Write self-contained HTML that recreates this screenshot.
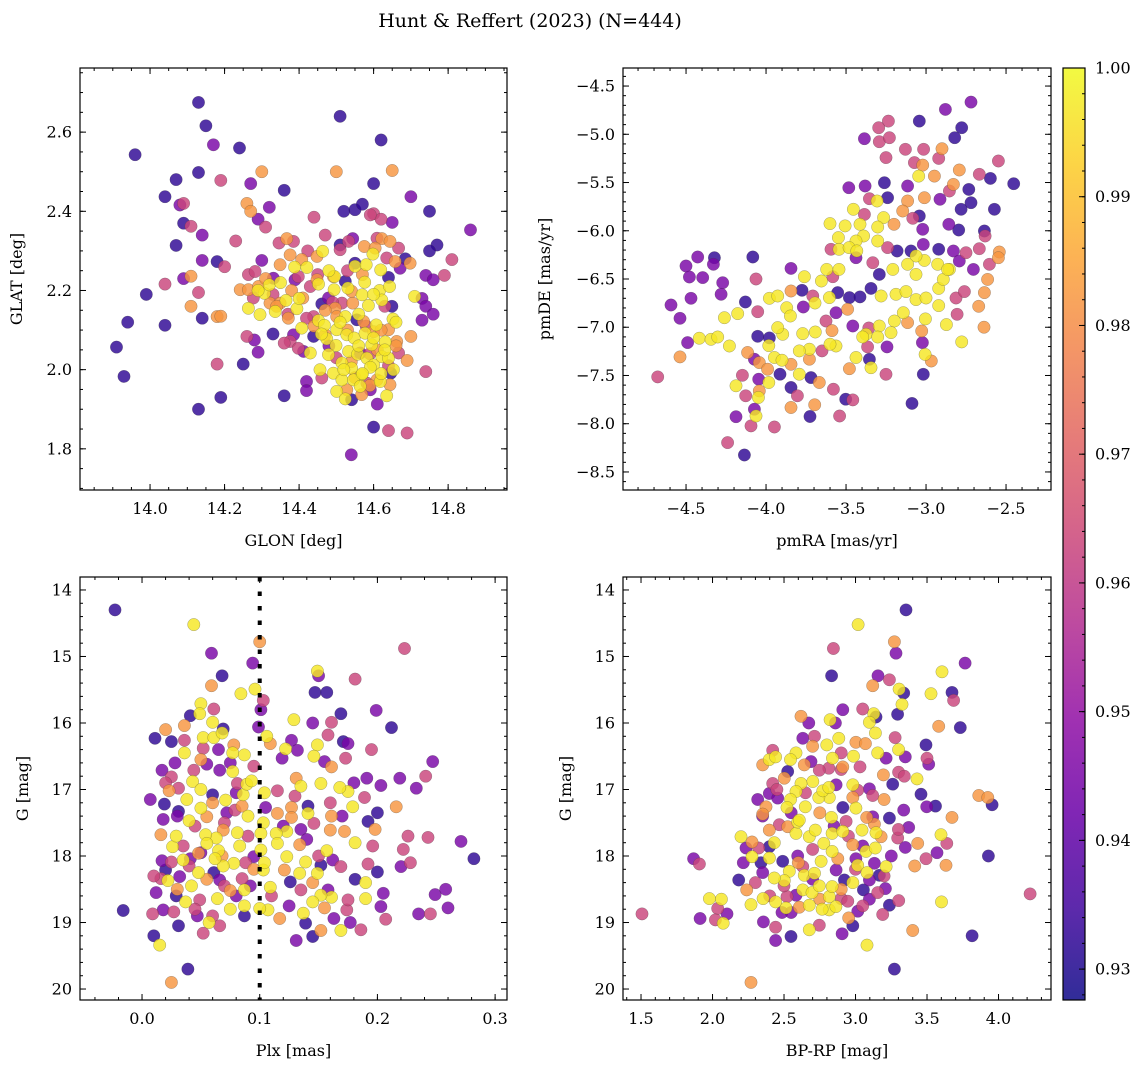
<!DOCTYPE html>
<html><head><meta charset="utf-8">
<style>
html,body{margin:0;padding:0;background:#fff;}
svg{display:block;font-family:"DejaVu Serif","Liberation Serif",serif;}
</style></head>
<body>
<svg id="fig" width="1148" height="1067" viewBox="0 0 1148 1067" xmlns="http://www.w3.org/2000/svg">
<defs>
<linearGradient id="plasmaGrad" x1="0" y1="1" x2="0" y2="0">
<stop offset="0" stop-color="#0d0887"/><stop offset="0.1" stop-color="#41049d"/><stop offset="0.2" stop-color="#6a00a8"/><stop offset="0.3" stop-color="#8f0da4"/><stop offset="0.4" stop-color="#b12a90"/><stop offset="0.5" stop-color="#cc4778"/><stop offset="0.6" stop-color="#e16462"/><stop offset="0.7" stop-color="#f2844b"/><stop offset="0.8" stop-color="#fca636"/><stop offset="0.9" stop-color="#fcce25"/><stop offset="1" stop-color="#f0f921"/>
</linearGradient>
</defs>
<text x="530" y="27" font-size="19" text-anchor="middle">Hunt &amp; Reffert (2023) (N=444)</text>
<g id="layer"></g>
</svg>
<script>
const D=0.932,U=0.945,K=0.963,O=0.982,Y=0.997;
const vmin=0.9276, vmax=1.0;
const cbTicks=[0.93,0.94,0.95,0.96,0.97,0.98,0.99,1.00];
const cbTickLabels=["0.93","0.94","0.95","0.96","0.97","0.98","0.99","1.00"];

const p1Ticks=[14.0,14.2,14.4,14.6,14.8];
const p1YTicks=[1.8,2.0,2.2,2.4,2.6];
const p2Ticks=[-4.5,-4.0,-3.5,-3.0,-2.5];
const p2YTicks=[-8.5,-8.0,-7.5,-7.0,-6.5,-6.0,-5.5,-5.0,-4.5];
const p3Ticks=[0.0,0.1,0.2,0.3];
const gTicks=[14,15,16,17,18,19,20];
const p4Ticks=[1.5,2.0,2.5,3.0,3.5,4.0];
const plxCut=0.1;

const skyStars=[
[14.13,2.675,D],[14.15,2.616,D],[14.17,2.568,U],[14.24,2.56,D],[13.96,2.543,D],[14.51,2.64,D],[14.62,2.58,D],[14.30,2.50,O],[14.50,2.50,O],[14.65,2.503,O],[14.07,2.48,D],[14.13,2.498,D],[14.19,2.478,K],[14.27,2.47,U],[14.36,2.453,D],[14.60,2.47,D],[14.04,2.437,D],[14.08,2.416,U],[14.09,2.42,K],[14.26,2.42,O],[14.27,2.40,O],[14.32,2.41,U],[14.29,2.38,U],[14.31,2.36,K],[14.44,2.385,K],[14.52,2.40,D],[14.55,2.404,D],[14.57,2.418,D],[14.60,2.394,K],[14.62,2.38,K],[14.65,2.372,U],[14.70,2.437,U],[14.75,2.40,D],[14.86,2.353,U],[14.09,2.37,D],[14.11,2.362,K],[14.14,2.34,U],[14.23,2.325,K],[14.07,2.314,D],[14.47,2.34,K],[14.77,2.315,D],[14.75,2.30,D],[14.14,2.276,U],[14.18,2.273,D],[14.20,2.26,K],[14.30,2.276,U],[14.81,2.278,K],[14.74,2.238,U],[14.76,2.227,U],[14.79,2.238,K],[14.11,2.236,O],[14.09,2.23,U],[14.04,2.216,K],[13.99,2.19,D],[14.13,2.195,K],[14.11,2.16,O],[13.94,2.12,D],[14.04,2.112,D],[13.91,2.057,D],[13.93,1.983,D],[14.14,2.13,D],[14.18,2.134,O],[14.19,2.135,O],[14.18,2.014,K],[14.25,2.014,D],[14.13,1.90,D],[14.19,1.93,D],[14.33,2.09,D],[14.26,2.084,K],[14.28,2.075,U],[14.29,2.044,U],[14.36,1.934,D],[14.70,2.084,O],[14.69,2.023,O],[14.74,1.995,K],[14.71,2.185,Y],[14.73,2.18,U],[14.74,2.16,U],[14.76,2.14,U],[14.73,2.125,U],[14.60,1.855,D],[14.64,1.846,K],[14.69,1.84,K],[14.54,1.785,U],[14.42,1.97,U],[14.42,1.947,U],[14.61,1.913,U],
[14.463,2.299,Y],[14.598,2.292,Y],[14.388,2.259,Y],[14.421,2.258,Y],[14.550,2.261,Y],[14.580,2.265,Y],[14.619,2.252,Y],[14.452,2.216,Y],[14.495,2.235,Y],[14.576,2.221,Y],[14.494,2.202,Y],[14.531,2.206,Y],[14.616,2.200,Y],[14.643,2.210,Y],[14.569,2.189,Y],[14.307,2.193,Y],[14.320,2.214,Y],[14.264,2.155,Y],[14.295,2.139,Y],[14.336,2.147,Y],[14.365,2.175,Y],[14.394,2.154,Y],[14.407,2.105,Y],[14.452,2.124,Y],[14.468,2.112,Y],[14.524,2.134,Y],[14.586,2.162,Y],[14.622,2.176,Y],[14.652,2.128,Y],[14.607,2.113,Y],[14.501,2.101,Y],[14.528,2.088,Y],[14.548,2.080,Y],[14.577,2.092,Y],[14.595,2.063,Y],[14.631,2.070,Y],[14.474,2.078,Y],[14.499,2.061,Y],[14.533,2.046,Y],[14.557,2.039,Y],[14.582,2.029,Y],[14.600,2.012,Y],[14.622,2.033,Y],[14.640,2.029,Y],[14.456,2.000,Y],[14.492,1.991,Y],[14.515,2.017,Y],[14.541,2.004,Y],[14.568,1.987,Y],[14.591,2.006,Y],[14.653,2.000,Y],[14.515,1.974,Y],[14.546,1.974,Y],[14.564,1.958,Y],[14.501,1.945,Y],[14.524,1.926,Y],[14.635,1.934,Y],[14.618,1.970,Y],[14.479,2.038,Y],[14.430,2.042,Y],
[14.367,2.331,O],[14.349,2.265,O],[14.376,2.290,O],[14.407,2.278,O],[14.448,2.286,O],[14.575,2.311,O],[14.622,2.331,O],[14.644,2.324,O],[14.604,2.307,O],[14.698,2.269,O],[14.658,2.273,O],[14.242,2.202,O],[14.264,2.202,O],[14.291,2.210,O],[14.322,2.168,O],[14.371,2.130,O],[14.410,2.181,O],[14.492,2.235,O],[14.544,2.168,O],[14.497,2.155,O],[14.573,2.122,O],[14.470,2.088,O],[14.600,2.096,O],[14.640,2.101,O],[14.501,2.134,O],[14.568,1.937,O],[14.609,1.974,O],[14.644,1.962,O],[14.528,1.949,O],[14.448,2.227,O],[14.349,2.168,O],[14.662,2.071,O],[14.541,2.198,O],
[14.423,2.300,K],[14.385,2.324,K],[14.346,2.320,K],[14.510,2.303,K],[14.533,2.324,K],[14.591,2.391,K],[14.609,2.332,K],[14.667,2.307,K],[14.635,2.282,K],[14.398,2.235,K],[14.264,2.240,K],[14.282,2.248,K],[14.430,2.210,K],[14.515,2.168,K],[14.376,2.071,K],[14.360,2.067,K],[14.398,2.054,K],[14.461,1.979,K],[14.582,1.966,K],[14.667,2.042,K],[14.439,2.134,K],[14.277,2.181,K],
[14.510,2.315,D],[14.544,2.331,U],[14.331,2.231,U],[14.389,2.227,U],[14.524,2.223,D],[14.550,2.269,D],[14.640,2.233,D],[14.649,2.160,D],[14.685,2.280,D],[14.461,2.166,D],[14.555,2.126,D],[14.439,2.084,D],[14.564,2.042,U],[14.385,2.088,U],[14.412,2.046,U],[14.646,1.991,D],[14.541,1.924,D],[14.591,1.949,U],[14.479,2.181,U],[14.671,2.256,U]
];
const skyStarsDense=[
[14.47,2.15,O],[14.49,2.17,K],[14.51,2.12,Y],[14.53,2.10,O],[14.56,2.14,Y],[14.58,2.11,K],[14.60,2.08,Y],[14.62,2.10,O],[14.63,2.05,Y],[14.61,2.05,O],[14.59,2.04,K],[14.56,2.06,Y],[14.54,2.02,O],[14.52,2.00,Y],[14.50,2.03,K],[14.48,2.06,U],[14.46,2.09,Y],[14.44,2.11,O],[14.42,2.13,K],[14.40,2.18,Y],[14.38,2.20,O],[14.35,2.22,Y],[14.33,2.19,K],[14.31,2.23,O],[14.29,2.20,Y],[14.34,2.16,O],[14.37,2.14,K],[14.55,1.98,O],[14.57,1.99,Y],[14.59,1.96,O],[14.62,1.99,Y],[14.64,2.01,K],[14.66,2.06,O],[14.66,2.12,Y],[14.63,2.16,K],[14.60,2.19,Y],[14.57,2.24,O],[14.53,2.25,K],[14.48,2.25,Y],[14.45,2.24,K]
];

const pmStars=[
[-2.719,-4.666,U],[-2.879,-4.742,U],[-3.042,-4.863,D],[-2.777,-4.932,D],[-2.821,-5.035,D],[-3.235,-4.863,K],[-3.296,-4.932,K],[-3.385,-5.046,U],[-3.292,-5.077,K],[-3.229,-5.035,K],[-3.129,-5.156,K],[-3.015,-5.156,K],[-2.900,-5.149,O],[-2.921,-5.250,K],[-2.548,-5.277,K],[-3.250,-5.242,K],[-3.073,-5.294,K],[-3.021,-5.319,O],[-2.792,-5.370,O],[-2.667,-5.415,K],[-2.598,-5.457,D],[-2.452,-5.512,D],[-2.948,-5.433,O],[-3.046,-5.433,Y],[-3.260,-5.502,D],[-3.381,-5.536,U],[-3.483,-5.554,U],[-3.115,-5.536,U],[-2.829,-5.519,O],[-2.854,-5.588,K],[-2.733,-5.571,D],[-2.913,-5.674,U],[-3.010,-5.657,O],[-3.115,-5.692,O],[-3.240,-5.657,D],[-3.306,-5.692,Y],[-3.354,-5.668,K],[-2.719,-5.709,D],[-2.781,-5.778,D],[-2.573,-5.778,D],[-3.146,-5.795,O],[-3.042,-5.847,D],[-3.083,-5.871,K],[-3.454,-5.778,Y],[-3.385,-5.830,K],[-3.265,-5.864,Y],[-3.200,-5.933,O],[-3.600,-5.926,Y],[-3.506,-5.950,Y],[-3.413,-5.933,Y],[-3.302,-5.961,Y],[-3.021,-5.985,U],[-2.858,-5.933,U],[-2.796,-5.992,D],[-2.635,-6.003,D],[-2.631,-6.054,K],[-3.548,-6.071,Y],[-3.390,-6.054,Y],[-3.302,-6.106,Y],[-3.438,-6.106,Y],[-3.544,-6.192,Y],[-3.481,-6.175,Y],[-3.433,-6.209,Y],[-3.594,-6.192,K],[-3.240,-6.175,K],[-3.181,-6.210,D],[-3.094,-6.210,D],[-3.017,-6.141,U],[-2.921,-6.192,D],[-2.829,-6.210,U],[-2.750,-6.227,K],[-2.667,-6.186,K],[-2.542,-6.220,O],[-2.548,-6.279,O],[-2.604,-6.348,K],[-2.704,-6.400,U],[-2.792,-6.313,U],[-2.854,-6.400,Y],[-2.927,-6.348,Y],[-3.010,-6.307,Y],[-3.063,-6.262,Y],[-3.115,-6.348,Y],[-3.063,-6.452,Y],[-3.208,-6.400,Y],[-3.292,-6.452,D],[-3.333,-6.331,K],[-3.438,-6.279,U],[-3.544,-6.400,Y],[-3.621,-6.400,Y],[-3.583,-6.476,K],[-3.654,-6.521,Y],[-3.760,-6.476,Y],[-3.844,-6.390,U],[-4.063,-6.500,K],[-4.083,-6.272,D],[-4.427,-6.272,U],[-4.323,-6.279,D],[-4.329,-6.348,U],[-4.500,-6.365,U],[-4.479,-6.479,U],[-4.396,-6.486,U],[-4.271,-6.538,U],[-4.281,-6.659,U],[-4.469,-6.700,U],[-4.594,-6.769,U],[-4.538,-6.907,U],[-4.490,-7.159,U],[-4.538,-7.307,O],[-4.677,-7.515,K],[-4.417,-7.114,Y],[-4.344,-7.125,Y],[-4.302,-7.101,Y],[-4.229,-7.194,Y],[-4.260,-6.901,Y],[-4.177,-6.859,Y],[-4.129,-6.738,D],[-4.052,-6.839,K],[-3.979,-6.700,Y],[-3.927,-6.676,Y],[-3.844,-6.624,O],[-3.871,-6.797,Y],[-3.848,-6.883,Y],[-3.775,-6.617,D],[-3.767,-6.790,U],[-3.694,-6.749,Y],[-3.708,-6.676,K],[-3.604,-6.693,Y],[-3.552,-6.641,D],[-3.479,-6.693,D],[-3.413,-6.686,D],[-3.344,-6.597,D],[-3.281,-6.676,Y],[-3.188,-6.659,Y],[-3.125,-6.631,Y],[-3.063,-6.714,Y],[-3.000,-6.697,Y],[-2.921,-6.597,Y],[-2.892,-6.504,Y],[-2.865,-6.400,Y],[-2.813,-6.697,K],[-2.760,-6.631,K],[-2.635,-6.641,O],[-2.615,-6.504,O],[-2.671,-6.783,O],[-2.806,-6.866,K],[-2.921,-6.776,Y],[-3.004,-6.914,Y],[-2.873,-6.973,Y],[-2.638,-7.000,O],[-2.777,-7.152,Y],[-3.027,-7.039,O],[-3.023,-7.159,U],[-3.006,-7.281,Y],[-2.967,-7.350,O],[-3.017,-7.488,D],[-3.088,-7.789,D],[-3.142,-6.849,Y],[-3.198,-6.935,Y],[-3.292,-6.987,Y],[-3.219,-7.056,Y],[-3.115,-6.952,O],[-3.375,-7.073,Y],[-3.302,-7.101,Y],[-3.244,-7.204,U],[-3.396,-7.101,Y],[-3.458,-6.987,U],[-3.490,-6.814,O],[-3.563,-6.849,U],[-3.625,-6.935,K],[-3.692,-7.049,Y],[-3.771,-7.066,Y],[-3.563,-7.194,Y],[-3.600,-7.176,Y],[-3.650,-7.245,K],[-3.729,-7.228,Y],[-3.792,-7.245,Y],[-3.438,-7.314,Y],[-3.354,-7.332,D],[-3.344,-7.419,Y],[-3.479,-7.430,O],[-3.250,-7.488,K],[-3.365,-7.204,K],[-3.896,-7.073,Y],[-3.927,-7.004,Y],[-3.983,-7.190,Y],[-4.052,-7.094,D],[-3.979,-7.111,D],[-4.115,-7.262,O],[-4.073,-7.331,U],[-3.948,-7.314,Y],[-3.900,-7.342,Y],[-4.042,-7.366,O],[-3.990,-7.435,O],[-3.913,-7.487,D],[-3.844,-7.384,O],[-3.792,-7.487,Y],[-3.729,-7.331,O],[-3.719,-7.522,D],[-3.667,-7.573,O],[-3.983,-7.573,Y],[-4.046,-7.539,U],[-4.148,-7.498,K],[-4.188,-7.607,Y],[-4.127,-7.711,K],[-4.048,-7.728,Y],[-4.042,-7.660,O],[-3.844,-7.625,D],[-3.804,-7.711,K],[-3.844,-7.832,O],[-3.696,-7.804,O],[-3.725,-7.925,D],[-3.579,-7.642,K],[-3.540,-7.920,K],[-3.502,-7.746,D],[-3.458,-7.753,K],[-4.063,-7.920,Y],[-4.073,-7.850,U],[-4.188,-7.927,U],[-4.094,-8.023,K],[-3.948,-8.034,K],[-4.240,-8.196,K],[-4.135,-8.324,D],[-3.358,-7.008,K],[-3.588,-7.035,O]
];

const plxStars=[
[-0.023,14.30,D],[0.044,14.52,Y],[0.100,14.78,O],[0.059,14.95,U],[0.094,15.10,U],[0.068,15.29,D],[0.223,14.88,K],[0.149,15.22,Y],[0.150,15.29,U],[0.181,15.34,K],[0.147,15.54,D],[0.157,15.54,D],[0.059,15.44,O],[0.084,15.56,Y],[0.096,15.49,Y],[0.103,15.66,K],[0.050,15.71,Y],[0.061,15.79,K],[0.041,15.89,D],[0.049,15.86,Y],[0.036,16.04,O],[0.060,15.99,Y],[0.069,16.09,D],[0.101,15.80,U],[0.129,15.95,Y],[0.145,16.00,U],[0.161,15.99,K],[0.169,15.86,D],[0.199,15.81,U],[0.212,16.07,D],[0.099,16.06,U],[0.011,16.23,D],[0.025,16.28,D],[0.036,16.26,K],[0.052,16.22,Y],[0.061,16.22,Y],[0.068,16.15,Y],[0.078,16.33,O],[0.077,16.45,Y],[0.087,16.48,Y],[0.036,16.45,Y],[0.052,16.38,K],[0.106,16.20,Y],[0.109,16.31,O],[0.127,16.26,U],[0.132,16.41,U],[0.122,16.39,Y],[0.149,16.33,Y],[0.158,16.18,K],[0.171,16.28,D],[0.175,16.31,U],[0.195,16.40,K],[0.146,16.50,Y],[0.155,16.58,U],[0.161,16.66,O],[0.173,16.53,K],[0.247,16.58,U],[0.241,16.80,K],[0.233,16.98,U],[0.219,16.83,U],[0.203,16.94,U],[0.191,16.83,U],[0.189,17.12,K],[0.216,17.26,O],[0.200,17.35,D],[0.192,17.48,D],[0.198,17.60,O],[0.196,17.85,K],[0.226,17.70,K],[0.243,17.72,K],[0.271,17.78,U],[0.282,18.04,D],[0.222,17.90,K],[0.228,18.10,K],[0.220,18.16,U],[0.200,18.24,D],[0.192,18.12,K],[0.190,18.40,Y],[0.190,18.64,Y],[0.205,18.56,U],[0.203,18.76,U],[0.207,18.95,K],[0.249,18.58,U],[0.258,18.50,U],[0.260,18.78,U],[0.235,18.87,U],[0.245,18.87,K],[0.186,19.11,K],[0.177,19.00,U],[0.169,19.12,Y],[0.163,18.94,U],[0.152,19.12,O],[0.145,19.21,D],[0.131,19.27,U],[0.139,19.01,D],[0.137,18.86,Y],[0.155,18.78,O],[0.161,18.62,Y],[0.152,18.59,Y],[0.145,18.69,Y],[0.174,18.81,K],[0.175,18.66,K],[0.117,18.94,O],[0.107,18.81,Y],[0.100,18.79,Y],[0.109,18.47,Y],[0.103,18.21,Y],[0.095,18.01,U],[0.087,18.90,D],[0.087,18.75,Y],[0.075,18.80,Y],[0.064,18.64,Y],[0.075,18.52,O],[0.087,18.51,Y],[0.057,19.00,Y],[0.066,19.05,K],[0.052,19.16,K],[0.047,18.90,U],[0.031,19.05,D],[0.027,18.84,K],[0.018,18.81,U],[0.009,18.87,K],[0.010,19.20,D],[0.015,19.34,Y],[-0.016,18.82,D],[0.039,19.70,D],[0.025,19.90,O],[0.037,18.69,Y],[0.042,18.45,Y],[0.022,18.37,Y],[0.016,18.34,K],[0.020,18.21,D],[0.017,18.07,U],[0.048,18.25,Y],[0.035,18.06,Y],[0.026,17.86,Y],[0.029,17.70,Y],[0.016,17.68,O],[0.040,17.47,Y],[0.031,17.33,D],[0.019,17.22,D],[0.007,17.15,U],[0.023,17.02,O],[0.031,16.98,K],[0.038,17.15,Y],[0.043,16.88,Y],[0.050,17.00,Y],[0.050,17.28,Y],[0.055,17.41,O],[0.017,16.71,U],[0.025,16.81,K],[0.044,16.71,K],[0.055,16.62,U],[0.066,16.71,U],[0.077,16.73,Y],[0.060,17.08,D],[0.071,17.16,Y],[0.072,17.35,U],[0.086,17.08,Y],[0.089,16.92,Y],[0.093,16.87,Y],[0.081,16.91,K],[0.079,17.31,K],[0.090,17.40,Y],[0.104,17.05,Y],[0.105,17.27,U],[0.115,17.02,K],[0.103,17.50,Y],[0.101,17.66,Y],[0.101,17.91,Y],[0.104,18.10,Y],[0.115,17.36,O],[0.127,17.27,O],[0.127,17.42,O],[0.141,17.25,D],[0.141,17.36,Y],[0.146,17.51,K],[0.135,17.60,U],[0.123,17.63,Y],[0.114,17.66,Y],[0.115,17.81,Y],[0.134,17.83,O],[0.123,18.01,Y],[0.139,18.09,Y],[0.121,18.21,O],[0.134,18.26,Y],[0.149,18.26,Y],[0.152,18.14,D],[0.157,17.92,Y],[0.161,17.40,O],[0.160,17.61,O],[0.172,17.63,O],[0.181,17.80,Y],[0.162,18.06,U],[0.169,18.16,K],[0.181,18.35,D],[0.158,18.51,U],[0.135,18.51,K],[0.126,18.39,D],[0.083,17.85,Y],[0.081,17.65,Y],[0.065,17.92,Y],[0.063,17.73,Y],[0.054,17.68,Y],[0.055,17.81,Y],[0.069,17.61,O],[0.078,18.11,Y],[0.069,18.15,Y],[0.061,18.25,D],[0.066,18.36,U],[0.085,18.34,K],[0.095,18.20,O],[0.062,18.04,Y],[0.048,17.96,O],[0.041,18.04,U],[0.025,18.09,K],[0.032,18.31,U],[0.029,18.60,D],[0.049,18.66,K],[0.179,17.26,Y],[0.180,16.90,U],[0.175,17.03,Y],[0.168,16.97,Y],[0.152,16.91,Y],[0.135,16.95,Y],[0.131,16.83,O],[0.119,16.53,U]
];
const plxStarsDense=[
[0.02,16.9,K],[0.03,17.4,U],[0.045,17.55,K],[0.06,17.2,O],[0.07,17.5,K],[0.08,17.05,U],[0.05,16.55,O],[0.065,16.4,U],[0.04,18.15,K],[0.055,18.35,O],[0.07,18.45,K],[0.08,18.6,U],[0.03,18.5,O],[0.012,18.55,U],[0.045,18.8,K],[0.06,18.9,K],[0.09,17.7,K],[0.085,17.25,O],[0.095,16.65,K],[0.075,16.6,U],[0.035,17.85,K],[0.05,17.95,U],[0.068,18.0,O],[0.088,18.1,K],[0.092,18.45,U],[0.13,17.1,K],[0.14,17.75,U],[0.15,18.0,K],[0.12,17.55,U],[0.16,17.2,K],[0.17,17.4,U],[0.11,18.6,K],[0.125,18.75,U],[0.145,18.4,O],[0.018,17.45,U],[0.01,18.3,K],[0.028,16.6,U],[0.02,16.1,O]
];

const cmdStars=[
[3.353,14.30,D],[3.018,14.52,Y],[3.272,14.78,O],[3.283,14.95,U],[2.845,14.88,K],[3.766,15.10,U],[3.605,15.23,Y],[2.833,15.29,D],[3.157,15.29,U],[3.237,15.35,K],[3.120,15.44,O],[3.305,15.49,Y],[3.337,15.55,D],[3.325,15.72,Y],[3.528,15.56,Y],[3.675,15.54,D],[3.686,15.66,K],[3.733,16.07,D],[3.582,16.05,O],[3.493,16.33,D],[3.500,16.53,K],[3.512,16.62,U],[3.430,16.84,Y],[3.348,16.51,U],[3.301,16.40,Y],[3.277,16.22,K],[3.294,15.87,D],[3.143,15.91,D],[3.127,15.86,Y],[3.050,15.79,K],[3.097,15.99,Y],[3.139,16.15,Y],[2.911,15.80,U],[2.822,15.95,Y],[2.859,16.00,U],[2.883,16.23,Y],[2.799,16.33,Y],[2.673,16.00,U],[2.619,15.90,O],[2.631,16.23,U],[2.713,16.20,K],[3.003,16.29,O],[3.069,16.31,O],[3.155,16.45,Y],[3.214,16.53,U],[2.986,16.50,Y],[2.839,16.53,Y],[3.031,16.66,K],[2.900,16.70,K],[2.813,16.68,K],[3.195,16.78,O],[3.260,16.92,D],[3.301,16.74,K],[3.341,16.80,K],[3.458,17.07,D],[3.498,17.26,U],[3.559,17.25,D],[3.862,17.09,O],[3.925,17.12,O],[3.955,17.23,D],[3.675,17.42,O],[3.598,17.68,Y],[3.638,17.81,K],[3.570,17.95,U],[3.493,18.04,K],[3.414,18.15,O],[3.633,18.14,O],[3.929,18.00,D],[4.221,18.57,K],[3.601,18.69,Y],[3.400,19.12,O],[3.815,19.20,D],[3.272,19.70,D],[3.080,19.34,Y],[2.269,19.90,O],[1.507,18.87,K],[1.868,18.04,U],[1.908,18.12,K],[1.913,18.94,U],[1.978,18.64,Y],[2.062,18.65,Y],[2.036,18.79,K],[2.101,18.87,U],[2.020,18.96,K],[2.075,19.01,Y],[2.183,18.36,D],[2.239,18.51,O],[2.269,18.73,Y],[2.354,18.64,Y],[2.356,18.99,U],[2.441,19.07,K],[2.441,19.27,U],[2.549,19.21,D],[2.677,19.11,Y],[2.747,19.04,K],[2.906,19.17,U],[2.981,19.05,D],[3.016,18.83,U],[2.952,18.93,O],[2.816,18.81,Y],[2.863,18.76,Y],[2.766,18.80,Y],[2.677,18.74,Y],[2.607,18.77,O],[2.514,18.78,Y],[2.441,18.69,Y],[2.521,18.61,K],[2.631,18.51,Y],[2.696,18.55,Y],[2.747,18.45,Y],[2.817,18.61,Y],[2.836,18.46,Y],[2.900,18.64,K],[2.946,18.68,K],[3.055,18.51,D],[3.155,18.55,K],[3.209,18.49,U],[3.237,18.74,D],[3.302,18.67,K],[3.190,18.88,K],[3.097,18.65,U],[2.981,18.40,Y],[3.097,18.36,U],[2.642,18.29,Y],[2.713,18.26,Y],[2.537,18.23,Y],[2.502,18.37,Y],[2.432,18.33,Y],[2.351,18.25,U],[2.339,18.10,D],[2.398,18.03,Y],[2.276,18.01,Y],[2.215,18.10,U],[2.234,17.88,U],[2.276,17.79,O],[2.199,17.71,Y],[2.323,17.88,K],[2.432,17.80,Y],[2.397,17.61,O],[2.467,17.53,K],[2.526,17.56,O],[2.584,17.66,Y],[2.596,17.49,Y],[2.677,17.71,Y],[2.719,17.61,Y],[2.778,17.81,Y],[2.836,17.93,Y],[2.836,17.66,Y],[2.911,17.63,Y],[2.876,18.04,O],[2.981,17.83,O],[3.003,18.04,U],[3.015,18.14,Y],[3.073,17.93,Y],[3.138,17.88,Y],[3.080,18.25,Y],[3.132,18.11,U],[3.214,18.16,Y],[3.167,18.29,D],[3.045,17.61,Y],[3.143,17.65,Y],[3.179,17.71,O],[3.132,17.52,O],[3.078,17.42,O],[3.003,17.28,Y],[3.120,17.41,U],[3.237,17.43,D],[3.337,17.31,U],[3.372,17.57,U],[3.295,17.73,K],[3.348,17.87,U],[3.435,17.81,O],[2.831,17.42,Y],[2.911,17.27,D],[2.934,17.48,K],[2.817,17.12,Y],[2.743,17.12,Y],[2.771,17.02,Y],[2.813,16.97,Y],[2.864,16.93,U],[2.981,16.93,Y],[3.015,17.01,K],[3.120,17.09,K],[3.097,16.99,U],[2.981,17.12,O],[2.701,16.88,Y],[2.619,16.91,Y],[2.584,17.03,Y],[2.545,17.15,Y],[2.649,17.26,Y],[2.521,17.27,Y],[2.607,17.46,Y],[2.502,16.83,O],[2.421,16.91,K],[2.397,17.06,U],[2.316,17.15,U],[2.374,17.26,O],[2.351,17.37,O],[2.397,16.55,Y],[2.441,16.51,Y],[2.421,16.41,K],[2.351,16.63,O],[2.584,16.45,Y],[2.545,16.55,Y],[2.642,16.63,O],[2.689,16.58,U],[2.747,16.71,K],[2.911,16.66,O],[2.526,16.73,D],[2.456,17.13,U],[2.398,17.86,D],[2.491,18.08,D],[2.596,18.00,U],[2.631,18.16,K],[2.759,18.08,Y],[2.864,18.21,U],[2.922,18.36,D],[2.584,18.59,U],[2.486,18.85,U]
];
const cmdStarsDense=[
[2.45,17.0,K],[2.55,17.35,U],[2.65,17.05,K],[2.75,17.35,O],[2.85,17.55,U],[2.95,17.7,K],[3.05,17.85,U],[2.7,17.9,K],[2.6,18.1,O],[2.5,18.45,K],[2.7,18.35,U],[2.9,18.5,O],[3.0,18.2,K],[3.2,18.3,K],[3.25,18.0,U],[2.4,18.6,K],[2.55,18.85,U],[2.75,18.65,O],[3.05,18.75,K],[2.9,16.45,K],[2.7,16.35,O],[3.2,17.15,O],[3.3,17.6,K],[2.35,17.4,U],[2.3,18.4,K]
];

const NS="http://www.w3.org/2000/svg";
const layer=document.getElementById('layer');
function mk(tag,attrs,parent){const e=document.createElementNS(NS,tag);for(const k in attrs)e.setAttribute(k,attrs[k]);(parent||layer).appendChild(e);return e;}

const stops=[[0,[13,8,135]],[0.1,[65,4,157]],[0.2,[106,0,168]],[0.3,[143,13,164]],[0.4,[177,42,144]],[0.5,[204,71,120]],[0.6,[225,100,98]],[0.7,[242,132,75]],[0.8,[252,166,54]],[0.9,[252,206,37]],[1,[240,249,33]]];
function plasma(v){let t=(v-vmin)/(vmax-vmin);t=Math.max(0,Math.min(1,t));for(let i=1;i<stops.length;i++){if(t<=stops[i][0]){const a=stops[i-1],b=stops[i];const f=(t-a[0])/(b[0]-a[0]);const c=a[1].map((x,j)=>Math.round(x+(b[1][j]-x)*f));return `rgb(${c[0]},${c[1]},${c[2]})`;}}return 'rgb(240,249,33)';}

function fmt(v,d){return (v<0?'\u2212':'')+Math.abs(v).toFixed(d);}

function panel(cfg){
  const g=mk('g',{});
  
  
  const sx=v=>cfg.L+(v-cfg.xmin)/(cfg.xmax-cfg.xmin)*(cfg.R-cfg.L);
  const sy=cfg.invY?(v=>cfg.T+(v-cfg.ymin)/(cfg.ymax-cfg.ymin)*(cfg.B-cfg.T)):(v=>cfg.B-(v-cfg.ymin)/(cfg.ymax-cfg.ymin)*(cfg.B-cfg.T));
  const pts=cfg.data.slice().sort((a,b)=>a[2]-b[2]);
  pts.forEach(p=>{
    const c=mk('circle',{cx:sx(p[0]).toFixed(1),cy:sy(p[1]).toFixed(1),r:6.2,fill:plasma(p[2]),'fill-opacity':0.82,stroke:'rgba(60,60,60,0.45)','stroke-width':0.5},g);
    
    
  });
  if(cfg.vline!==undefined){
    const vl=mk('line',{x1:sx(cfg.vline),x2:sx(cfg.vline),y1:cfg.T,y2:cfg.B,stroke:'#000','stroke-width':4,'stroke-dasharray':'4.5 10'},g);
    
    
  }
  const tk=mk('g',{stroke:'#000','stroke-width':1},g);
  
  
  const eps=1e-9;
  for(let v=Math.ceil(cfg.xmin/cfg.xminor)*cfg.xminor;v<=cfg.xmax+eps;v+=cfg.xminor){
    const x=sx(v);mk('line',{x1:x,x2:x,y1:cfg.B,y2:cfg.B-3},tk);mk('line',{x1:x,x2:x,y1:cfg.T,y2:cfg.T+3},tk);
  }
  for(let v=Math.ceil(cfg.ymin/cfg.yminor)*cfg.yminor;v<=cfg.ymax+eps;v+=cfg.yminor){
    const y=sy(v);mk('line',{x1:cfg.L,x2:cfg.L+3,y1:y,y2:y},tk);mk('line',{x1:cfg.R,x2:cfg.R-3,y1:y,y2:y},tk);
  }
  cfg.xt.forEach(v=>{const x=sx(v);mk('line',{x1:x,x2:x,y1:cfg.B,y2:cfg.B-6},tk);mk('line',{x1:x,x2:x,y1:cfg.T,y2:cfg.T+6},tk);
    const t=mk('text',{x:x,y:cfg.B+24,'font-size':16,'text-anchor':'middle'},g);t.textContent=fmt(v,cfg.xd);
    });
  cfg.yt.forEach(v=>{const y=sy(v);mk('line',{x1:cfg.L,x2:cfg.L+6,y1:y,y2:y},tk);mk('line',{x1:cfg.R,x2:cfg.R-6,y1:y,y2:y},tk);
    const t=mk('text',{x:cfg.L-8,y:y+5.5,'font-size':16,'text-anchor':'end'},g);t.textContent=fmt(v,cfg.yd);
    });
  const fr=mk('rect',{x:cfg.L,y:cfg.T,width:cfg.R-cfg.L,height:cfg.B-cfg.T,fill:'none',stroke:'#000','stroke-width':1.2},g);
  
  const xl=mk('text',{x:(cfg.L+cfg.R)/2,y:cfg.B+56,'font-size':16,'text-anchor':'middle'},g);xl.textContent=cfg.xlabel;
  
  const cy=(cfg.T+cfg.B)/2;
  const yl=mk('text',{x:cfg.ylx,y:cy,'font-size':16,'text-anchor':'middle',transform:`rotate(-90 ${cfg.ylx} ${cy})`},g);yl.textContent=cfg.ylabel;
  
}

panel({name:'sky-panel',L:80,R:507,T:68,B:490,xmin:13.812,xmax:14.958,ymin:1.696,ymax:2.762,xt:p1Ticks,yt:p1YTicks,xminor:0.05,yminor:0.05,xd:1,yd:1,data:skyStars.concat(skyStarsDense),xlabel:'GLON [deg]',ylabel:'GLAT [deg]',ylx:22});
panel({name:'proper-motion-panel',L:623,R:1051,T:68,B:490,xmin:-4.894,xmax:-2.219,ymin:-8.687,ymax:-4.313,xt:p2Ticks,yt:p2YTicks,xminor:0.1,yminor:0.1,xd:1,yd:1,data:pmStars,xlabel:'pmRA [mas/yr]',ylabel:'pmDE [mas/yr]',ylx:550});
panel({name:'parallax-panel',L:80,R:507,T:577,B:1000,xmin:-0.0527,xmax:0.3101,ymin:13.805,ymax:20.165,invY:true,xt:p3Ticks,yt:gTicks,xminor:0.02,yminor:0.2,xd:1,yd:0,data:plxStars.concat(plxStarsDense),xlabel:'Plx [mas]',ylabel:'G [mag]',ylx:28,vline:plxCut});
panel({name:'cmd-panel',L:623,R:1051,T:577,B:1000,xmin:1.374,xmax:4.367,ymin:13.805,ymax:20.165,invY:true,xt:p4Ticks,yt:gTicks,xminor:0.1,yminor:0.2,xd:1,yd:0,data:cmdStars.concat(cmdStarsDense),xlabel:'BP-RP [mag]',ylabel:'G [mag]',ylx:571});

const cb=mk('g',{});


const cT=68,cB=1000,cL=1063,cR=1085;
const cs=v=>cB-(v-vmin)/(vmax-vmin)*(cB-cT);
mk('rect',{x:cL,y:cT,width:cR-cL,height:cB-cT,fill:'url(#plasmaGrad)','fill-opacity':0.85},cb);
for(let i=0;i<=40;i++){const v=0.92+i*0.002;if(v<vmin-1e-9||v>vmax+1e-9)continue;const y=cs(v);mk('line',{x1:cR,x2:cR-3,y1:y,y2:y,stroke:'#000','stroke-width':1},cb);}
cbTicks.forEach((v,i)=>{const y=cs(v);mk('line',{x1:cR,x2:cR-6,y1:y,y2:y,stroke:'#000','stroke-width':1},cb);
  const t=mk('text',{x:cR+10,y:y+5.5,'font-size':16},cb);t.textContent=cbTickLabels[i];
  });
mk('rect',{x:cL,y:cT,width:cR-cL,height:cB-cT,fill:'none',stroke:'#000','stroke-width':1.2},cb);
</script>
</body></html>
